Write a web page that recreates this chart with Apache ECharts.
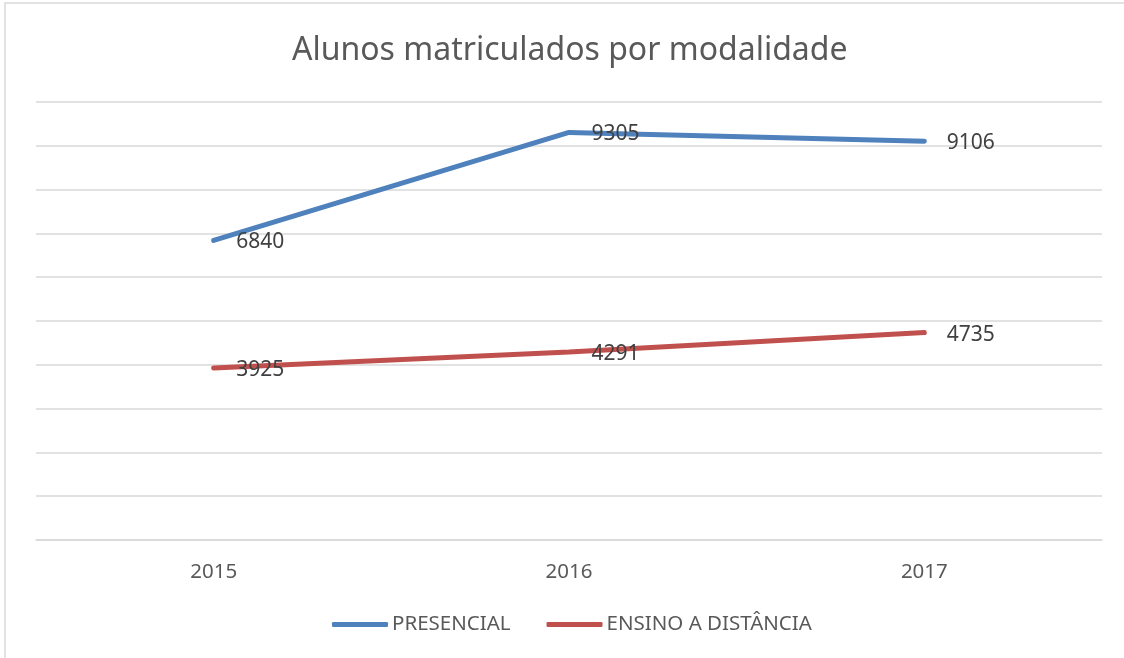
<!DOCTYPE html>
<html>
<head>
<meta charset="utf-8">
<script src="https://cdn.jsdelivr.net/npm/echarts@6/dist/echarts.min.js"></script>
<style>
  html, body { margin: 0; padding: 0; background: #fff; }
  #chart { width: 1124px; height: 658px; }
</style>
</head>
<body>
<div id="chart"></div>
<script>
let anos = ['2015', '2016', '2017'];
let presencial = [6840, 9305, 9106];
let distancia = [3925, 4291, 4735];

let cores = {
    presencial: '#4f81bd',
    distancia: '#c0504d',
    texto: '#595959',
    grade: '#d9d9d9'
};

function serieLinha(nome, dados, cor) {
    return {
        name: nome,
        type: 'line',
        data: dados,
        symbol: 'circle',
        symbolSize: 1,
        itemStyle: { color: cor },
        lineStyle: { color: cor, width: 5, cap: 'round' },
        label: {
            show: true,
            position: 'right',
            distance: 22,
            offset: [0, 2],
            fontFamily: 'Noto Sans',
            fontSize: 21,
            color: '#404040'
        },
        emphasis: { disabled: true }
    };
}

let option = {
    animation: false,
    backgroundColor: '#fff',
    title: {
        text: 'Alunos matriculados por modalidade',
        left: 287,
        top: 30,
        textStyle: {
            fontFamily: 'Noto Sans',
            fontSize: 32,
            fontWeight: 'normal',
            color: cores.texto
        }
    },
    legend: {
        bottom: 18,
        left: 327,
        itemWidth: 56,
        itemHeight: 5,
        itemGap: 36,
        icon: 'roundRect',
        textStyle: {
            fontFamily: 'Noto Sans',
            fontSize: 20.5,
            color: cores.texto,
            padding: [0, 0, 0, -1]
        },
        data: ['PRESENCIAL', 'ENSINO A DISTÂNCIA']
    },
    grid: {
        left: 36,
        right: 22,
        top: 102,
        bottom: 118
    },
    xAxis: {
        type: 'category',
        data: anos,
        boundaryGap: true,
        axisLine: { lineStyle: { color: cores.grade, width: 1.5 } },
        axisTick: { show: false },
        axisLabel: {
            margin: 22,
            fontFamily: 'Noto Sans',
            fontSize: 20.5,
            color: cores.texto
        }
    },
    yAxis: {
        type: 'value',
        min: 0,
        max: 10000,
        interval: 1000,
        axisLabel: { show: false },
        axisLine: { show: false },
        axisTick: { show: false },
        splitLine: { lineStyle: { color: cores.grade, width: 1.5 } }
    },
    graphic: [{
        type: 'rect',
        shape: { x: 5, y: 3, width: 1200, height: 800 },
        style: { fill: 'none', stroke: cores.grade, lineWidth: 1.5 },
        silent: true
    }],
    series: [
        serieLinha('PRESENCIAL', presencial, cores.presencial),
        serieLinha('ENSINO A DISTÂNCIA', distancia, cores.distancia)
    ]
};

echarts.init(document.getElementById('chart')).setOption(option);
</script>
</body>
</html>
